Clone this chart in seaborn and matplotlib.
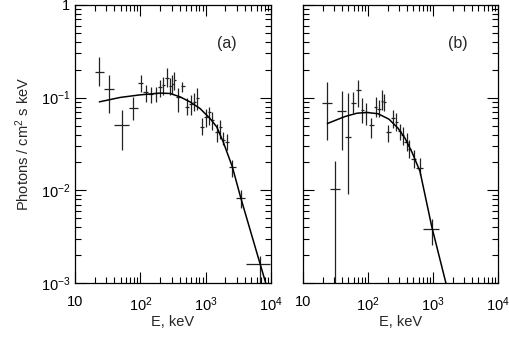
import numpy as np
import pandas as pd
import matplotlib
matplotlib.use("Agg")
import matplotlib.pyplot as plt
import seaborn as sns
from matplotlib.ticker import LogLocator, FixedLocator, FixedFormatter, NullFormatter

# ---------------- data: panel (a) ----------------
a_E    = [23.6, 33.5, 51.9, 78.2, 101, 121, 144, 172, 202, 226, 254, 285, 309, 332, 382, 440,
          514, 587, 664, 746, 872, 1004, 1128, 1267, 1479, 1663, 1868, 2105, 2563, 3450, 6808]
a_Elo  = [20.2, 28.1, 39.5, 67.1, 93, 110, 131, 159, 187, 215, 239, 270, 301, 322, 352, 413,
          475, 547, 630, 700, 806, 945, 1070, 1189, 1369, 1577, 1753, 1983, 2283, 2922, 4110]
a_Ehi  = [27.8, 40.0, 67.1, 93.1, 110, 131, 159, 187, 215, 239, 270, 301, 322, 352, 413, 475,
          547, 630, 700, 792, 945, 1070, 1189, 1345, 1577, 1753, 1983, 2244, 2922, 4010, 9500]
a_F    = [0.190, 0.1227, 0.0504, 0.0783, 0.1424, 0.1156, 0.1083, 0.1127, 0.1289, 0.1383, 0.165,
          0.1331, 0.140, 0.1546, 0.1020, 0.1342, 0.0796, 0.0851, 0.0901, 0.098, 0.0483, 0.0620,
          0.0702, 0.0571, 0.0427, 0.0483, 0.0347, 0.0333, 0.01786, 0.00826, 0.00161]
a_Ftop = [0.272, 0.175, 0.0733, 0.102, 0.175, 0.1365, 0.1309, 0.1309, 0.1546, 0.167, 0.207,
          0.1625, 0.175, 0.189, 0.1257, 0.148, 0.098, 0.1064, 0.1119, 0.1257, 0.0596, 0.0764,
          0.0796, 0.0697, 0.0526, 0.0571, 0.0427, 0.0410, 0.0211, 0.0100, 0.00198]
a_Fbot = [0.133, 0.0675, 0.0270, 0.0581, 0.1156, 0.0901, 0.0866, 0.0901, 0.1012, 0.1064, 0.130,
          0.1064, 0.109, 0.1205, 0.0702, 0.1156, 0.0647, 0.0647, 0.0715, 0.0733, 0.0393, 0.0483,
          0.0504, 0.0445, 0.0333, 0.0362, 0.0306, 0.0270, 0.01393, 0.00638, 0.0009]
a_curveE = [23.6, 48.9, 98.9, 200, 285, 406, 577, 820, 1167, 1479, 1866, 2565, 3451, 6808, 8300]
a_curveF = [0.0901, 0.1005, 0.1072, 0.112, 0.111, 0.102, 0.090, 0.0764, 0.0596, 0.0483, 0.033,
            0.01786, 0.00826, 0.00161, 0.00100]

# ---------------- data: panel (b) ----------------
b_E    = [23.7, 31.1, 39.4, 48.7, 59.4, 70.9, 81.7, 93.2, 112, 131, 148, 162, 176, 205, 240, 272,
          308, 340, 394, 432, 510, 620, 955]
b_Elo  = [19.8, 26.0, 33.3, 44.3, 53.8, 65.3, 76.7, 88.3, 102, 124, 140, 156, 170, 189, 226, 260,
          290, 322, 364, 413, 459, 547, 709]
b_Ehi  = [27.7, 37.1, 45.9, 54.8, 65.3, 76.7, 88.3, 102, 124, 140, 156, 170, 186, 226, 260, 290,
          322, 364, 413, 459, 547, 702, 1250]
b_F    = [0.0879, 0.0104, 0.0720, 0.0374, 0.0879, 0.1197, 0.0745, 0.0697, 0.0504, 0.0796, 0.0764,
          0.0917, 0.0901, 0.0421, 0.0596, 0.0547, 0.0434, 0.0393, 0.0333, 0.0277, 0.0220, 0.0175,
          0.00385]
b_Ftop = [0.148, 0.0207, 0.1175, 0.1119, 0.1156, 0.1546, 0.0988, 0.0872, 0.060, 0.1020, 0.094,
          0.1205, 0.1091, 0.0504, 0.0733, 0.0680, 0.0526, 0.048, 0.0413, 0.0347, 0.0270, 0.0222,
          0.00494]
b_Fbot = [0.0347, 0.0009, 0.0270, 0.0092, 0.0675, 0.0796, 0.053, 0.0504, 0.0365, 0.062, 0.0615,
          0.0733, 0.0715, 0.0333, 0.0468, 0.0434, 0.0347, 0.0306, 0.0264, 0.0222, 0.0173, 0.0145,
          0.00254]
b_curveE = [23.7, 44.3, 67.8, 96.6, 142.6, 210, 290, 371, 475, 631, 955, 1585]
b_curveF = [0.0526, 0.0626, 0.0680, 0.0692, 0.0671, 0.0586, 0.0468, 0.0365, 0.0258, 0.0160,
            0.00408, 0.00099]

x_ticks = [10, 100, 1000, 10000]
x_labels = ["10", r"$10^{2}$", r"$10^{3}$", r"$10^{4}$"]
y_ticks = [1, 0.1, 0.01, 0.001]
y_labels = ["1", r"$10^{-1}$", r"$10^{-2}$", r"$10^{-3}$"]

sns.set_style("ticks")
plt.rcParams["font.family"] = ["Liberation Sans", "DejaVu Sans"]
plt.rcParams["mathtext.fontset"] = "custom"
plt.rcParams["mathtext.rm"] = "Liberation Sans"
plt.rcParams["mathtext.it"] = "Liberation Sans:italic"
plt.rcParams["mathtext.default"] = "regular"

fig = plt.figure(figsize=(5.10, 3.47), dpi=100)
ax_a = fig.add_axes([75/510, 1-283/347, 196/510, 278/347])
ax_b = fig.add_axes([303/510, 1-283/347, 195/510, 278/347])

panels = [
    (ax_a, a_E, a_Elo, a_Ehi, a_F, a_Ftop, a_Fbot, a_curveE, a_curveF, "(a)", 0.775),
    (ax_b, b_E, b_Elo, b_Ehi, b_F, b_Ftop, b_Fbot, b_curveE, b_curveF, "(b)", 0.795),
]

for ax, E, Elo, Ehi, F, Ftop, Fbot, cE, cF, tag, tx in panels:
    E = np.array(E); F = np.array(F)
    xerr = [E - np.array(Elo), np.array(Ehi) - E]
    yerr = [F - np.array(Fbot), np.array(Ftop) - F]
    ax.set_xscale("log"); ax.set_yscale("log")
    ax.errorbar(E, F, xerr=xerr, yerr=yerr, fmt="none", ecolor="#222222",
                elinewidth=0.9, capsize=0, zorder=2)
    cdf = pd.DataFrame({"E": cE, "F": cF})
    sns.lineplot(data=cdf, x="E", y="F", ax=ax, color="black", linewidth=1.1,
                 sort=False, zorder=3)
    ax.set_xlim(10, 1e4); ax.set_ylim(1e-3, 1)
    ax.xaxis.set_major_locator(FixedLocator(x_ticks))
    ax.xaxis.set_major_formatter(FixedFormatter(x_labels))
    ax.xaxis.set_minor_locator(LogLocator(base=10, subs=np.arange(2, 10), numticks=20))
    ax.xaxis.set_minor_formatter(NullFormatter())
    ax.yaxis.set_major_locator(FixedLocator(y_ticks))
    ax.yaxis.set_major_formatter(FixedFormatter(y_labels))
    ax.yaxis.set_minor_locator(LogLocator(base=10, subs=np.arange(2, 10), numticks=20))
    ax.yaxis.set_minor_formatter(NullFormatter())
    ax.tick_params(which="both", direction="in", top=True, right=True, width=0.8,
                   color="black", labelsize=10.5, labelcolor="black")
    ax.tick_params(which="major", length=8)
    ax.tick_params(which="minor", length=4.5)
    ax.tick_params(axis="x", which="major", pad=9)
    for s in ax.spines.values():
        s.set_linewidth(0.9); s.set_color("black"); s.set_visible(True)
    ax.set_xlabel("E, keV", fontsize=10.5, labelpad=1)
    ax.set_ylabel("")
    ax.text(tx, 0.86, tag, transform=ax.transAxes, fontsize=11.5, ha="center", va="center")
    ax.set_facecolor("white")

ax_a.set_ylabel(r"Photons / cm$^{2}$ s keV", fontsize=10.5, labelpad=6)
ax_b.yaxis.set_major_formatter(NullFormatter())

fig.savefig("out.png", dpi=100, facecolor="white")
